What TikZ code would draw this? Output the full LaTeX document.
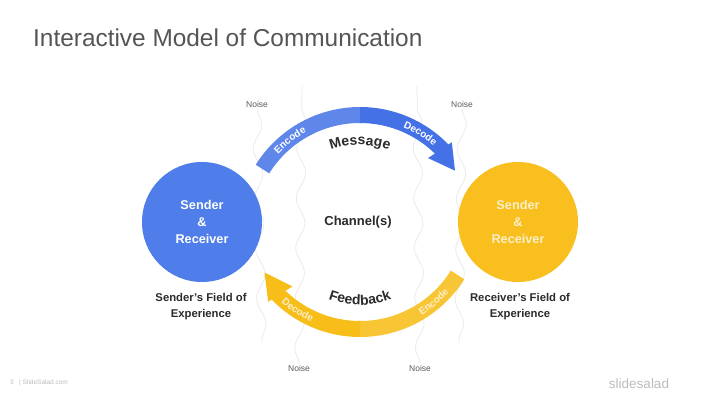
\documentclass[tikz,border=0pt]{standalone}
\usepackage{fontspec}
\setmainfont{Liberation Sans}
\usetikzlibrary{calc,decorations.text,decorations.pathmorphing}
\definecolor{bluecirc}{HTML}{4F7DE9}
\definecolor{bluelight}{HTML}{5F87EA}
\definecolor{bluedark}{HTML}{4571E6}
\definecolor{yelcirc}{HTML}{F8BF1E}
\definecolor{yelleft}{HTML}{F7BE1A}
\definecolor{yelright}{HTML}{F8C535}
\definecolor{yeltext}{HTML}{FCEFC8}
\definecolor{txtdark}{HTML}{2B2B2B}
\definecolor{titlegray}{HTML}{555555}
\definecolor{noisegray}{HTML}{EBEBEB}
\definecolor{noisetext}{HTML}{5A5A5A}
\definecolor{footgray}{HTML}{BDBDBD}
\tikzset{
  noiseline/.style={draw=noisegray, line width=0.8, decorate,
    decoration={snake, amplitude=4.5, segment length=50}},
  noiselbl/.style={font=\fontsize{8.5}{10}\selectfont, text=noisetext, inner sep=1},
  band/.style={line width=16},
  bubble/.style={circle, minimum size=120, inner sep=0, align=center,
    font=\fontsize{12.7}{17}\selectfont\bfseries},
  fieldlbl/.style={align=center, font=\fontsize{11.3}{16}\selectfont\bfseries, text=txtdark},
  arctext/.style 2 args={decorate, decoration={text along path, text align=center,
    text color=#1, text={|\fontsize{10}{12}\selectfont\bfseries|#2}}},
  bigarctext/.style={decorate, decoration={text along path, text align=center,
    text color=txtdark, text={|\fontsize{14}{16}\selectfont\bfseries|#1}}}
}
\begin{document}
\begin{tikzpicture}[x=1pt,y=1pt]
\useasboundingbox (0,0) rectangle (720,404);
\fill[white] (0,0) rectangle (720,404);

% title
\node[anchor=base west, inner sep=0, text=titlegray,
  font=\fontsize{24.4}{29}\selectfont] (title) at (33,357) {Interactive Model of Communication};

% noise labels and lines
\node[noiselbl] (nz1) at (257,300) {Noise};
\node[noiselbl] (nz2) at (462,300) {Noise};
\node[noiselbl] (nz3) at (299,36) {Noise};
\node[noiselbl] (nz4) at (420,36) {Noise};
\coordinate (w1) at (262,62);
\coordinate (w2) at (459,62);
\coordinate (w3) at (302,318);
\coordinate (w4) at (417,318);
\path[noiseline] (nz1.south) -- (w1);
\path[noiseline] (nz2.south) -- (w2);
\path[noiseline] (nz3.north) -- (w3);
\path[noiseline] (nz4.north) -- (w4);

% arc centres
\coordinate (CT) at (360,174);
\coordinate (CB) at (360,190);

% message arrow (blue)
\coordinate (mStart) at ($(CT)+(148:115)$);
\coordinate (mMid) at ($(CT)+(90:115)$);
\draw[band, bluelight] (mStart) arc[start angle=148, end angle=89.5, radius=115];
\draw[band, bluedark] (mMid) arc[start angle=90, end angle=43.5, radius=115];
\fill[bluedark] ($(CT)+(46.6:99)$) -- ($(CT)+(43.7:127)$) -- ($(CT)+(32:112)$) -- cycle;

% feedback arrow (yellow)
\coordinate (fStart) at ($(CB)+(-32:115)$);
\coordinate (fMid) at ($(CB)+(-90:115)$);
\draw[band, yelright] (fStart) arc[start angle=-32, end angle=-90.5, radius=115];
\draw[band, yelleft] (fMid) arc[start angle=-90, end angle=-136.5, radius=115];
\fill[yelleft] ($(CB)+(-133:99)$) -- ($(CB)+(-136.3:127)$) -- ($(CB)+(-148.5:112)$) -- cycle;

% texts on the arrows
\path[arctext={white}{Encode}] ($(CT)+(150:111.5)$) arc[start angle=150, end angle=106, radius=111.5];
\path[arctext={white}{Decode}] ($(CT)+(80:111.5)$) arc[start angle=80, end angle=36, radius=111.5];
\path[arctext={yeltext}{Encode}] ($(CB)+(-72:118.5)$) arc[start angle=-72, end angle=-28, radius=118.5];
\path[arctext={yeltext}{Decode}] ($(CB)+(-145:118.5)$) arc[start angle=-145, end angle=-101, radius=118.5];
\path[bigarctext={Message}] ($(CT)+(120:85)$) arc[start angle=120, end angle=60, radius=85];
\path[bigarctext={Feedback}] ($(CB)+(-120:91)$) arc[start angle=-120, end angle=-60, radius=91];

% circles
\node[bubble, fill=bluecirc, text=white] (snd) at (202,182) {Sender\\\&\\Receiver};
\node[bubble, fill=yelcirc, text=yeltext] (rcv) at (518,182) {Sender\\\&\\Receiver};

\node[font=\fontsize{13}{15}\selectfont\bfseries, text=txtdark] (chan) at (358,182) {Channel(s)};

\node[fieldlbl] (sfe) at (201,97) {Sender’s Field of\\Experience};
\node[fieldlbl] (rfe) at (520,97) {Receiver’s Field of\\Experience};

% footer
\node[anchor=west, inner sep=0, text=footgray, font=\fontsize{6.5}{8}\selectfont] (foot) at (10,21) {3 \ \ | SlideSalad.com};
\node[anchor=center, inner sep=0, text=footgray, font=\fontsize{13.5}{15}\selectfont] (logo) at (639,20) {slidesalad};
\end{tikzpicture}
\end{document}
